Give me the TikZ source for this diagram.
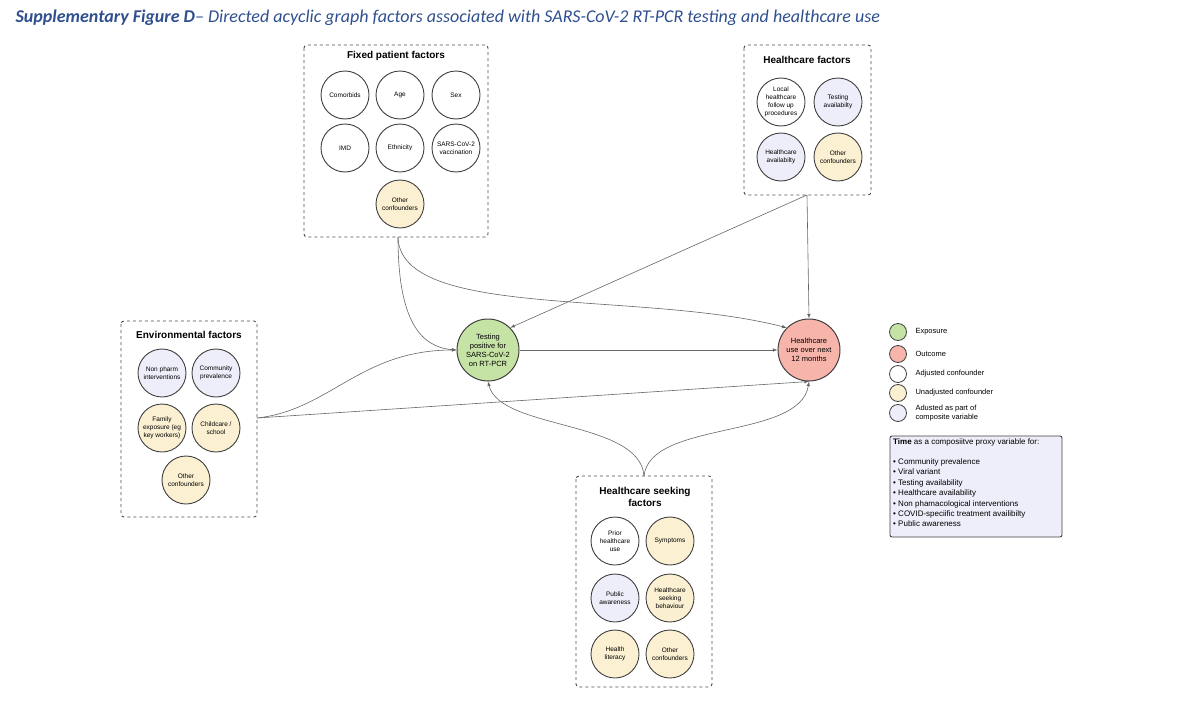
\documentclass[tikz,border=0pt]{standalone}
\usepackage{fontspec}
\setmainfont{Liberation Sans}
\newfontfamily\carl{Carlito}
\begin{document}
\begin{tikzpicture}[x=1pt,y=-1pt,
  box/.style={draw=black!70,dashed,line width=0.9pt,rounded corners=3pt},
  c/.style={circle,draw=black!75,line width=0.9pt,minimum size=48pt,inner sep=0pt,align=center,font=\fontsize{6.5}{7.8}\selectfont},
  adj/.style={c,fill=white},
  una/.style={c,fill=yel},
  cmp/.style={c,fill=lav},
  big/.style={circle,draw=black!75,line width=1pt,minimum size=62pt,inner sep=0pt,align=center,font=\fontsize{7.5}{9}\selectfont},
  ttl/.style={font=\bfseries\fontsize{10}{12}\selectfont,align=center},
  lc/.style={circle,draw=black!75,line width=0.8pt,minimum size=17pt,inner sep=0pt},
  lt/.style={anchor=west,font=\fontsize{7.5}{9}\selectfont,align=left},
  e/.style={draw=black!60,line width=0.6pt,-latex}]
\definecolor{yel}{HTML}{FBF0D2}
\definecolor{lav}{HTML}{EEEEFA}
\definecolor{grn}{HTML}{C6E3A6}
\definecolor{rd}{HTML}{F6B4AB}
\definecolor{tblue}{HTML}{2F4F8F}
\useasboundingbox (0,0) rectangle (1200,712);
\node[anchor=west,font=\carl\itshape\fontsize{18}{21}\selectfont,text=tblue] (title) at (12,18) {\textbf{Supplementary Figure D}– Directed acyclic graph factors associated with SARS-CoV-2 RT-PCR testing and healthcare use};
% Fixed patient
\draw[box] (304,45) rectangle (488,237);
\node[ttl] (ft) at (396,56) {Fixed patient factors};
\node[adj] (f1) at (345,95) {Comorbids};
\node[adj] (f2) at (400,95) {Age};
\node[adj] (f3) at (456,95) {Sex};
\node[adj] (f4) at (345,148) {IMD};
\node[adj] (f5) at (400,148) {Ethnicity};
\node[adj] (f6) at (456,148) {SARS-CoV-2\\vaccination};
\node[una] (f7) at (400,204) {Other\\confounders};
\coordinate (fb) at (398,237);
% Healthcare
\draw[box] (744,45) rectangle (871,195);
\node[ttl] (ht) at (807,60) {Healthcare factors};
\node[adj] (h1) at (781,102) {Local\\healthcare\\follow up\\procedures};
\node[cmp] (h2) at (838,102) {Testing\\availabilty};
\node[cmp] (h3) at (781,157) {Healthcare\\availabilty};
\node[una] (h4) at (838,157) {Other\\confounders};
\coordinate (hb) at (807,195);
% Environmental
\draw[box] (121,321) rectangle (257,517);
\node[ttl] (et) at (189,335) {Environmental factors};
\node[cmp] (e1) at (162,373) {Non pharm\\interventions};
\node[cmp] (e2) at (216,373) {Community\\prevalence};
\node[una] (e3) at (162,428) {Family\\exposure (eg\\key workers)};
\node[una] (e4) at (216,428) {Childcare /\\school};
\node[una] (e5) at (186,480) {Other\\confounders};
\coordinate (eb) at (257,418);
% Seeking
\draw[box] (576,476) rectangle (712,687);
\node[ttl] (st) at (645,497) {Healthcare seeking\\factors};
\node[adj] (s1) at (615,541) {Prior\\healthcare\\use};
\node[una] (s2) at (670,541) {Symptoms};
\node[cmp] (s3) at (615,598) {Public\\awareness};
\node[una] (s4) at (670,598) {Healthcare\\seeking\\behaviour};
\node[una] (s5) at (615,654) {Health\\literacy};
\node[una] (s6) at (670,654) {Other\\confounders};
\coordinate (sb) at (644,476);
% main
\node[big,fill=grn] (x) at (488,350) {Testing\\positive for\\SARS-CoV-2\\on RT-PCR};
\node[big,fill=rd] (y) at (809,350) {Healthcare\\use over next\\12 months};
\draw[e] (x) -- (y);
\draw[e] (fb) .. controls (398,320) and (420,347) .. (x.west);
\draw[e] (fb) .. controls (400,320) and (640,290) .. (y.north west);
\draw[e] (hb) -- (y.north);
\draw[e] (hb) -- (x.north east);
\draw[e] (eb) .. controls (330,410) and (360,350) .. (x.west);
\draw[e] (eb) -- (y.south);
\draw[e] (sb) .. controls (640,420) and (500,430) .. (x.south);
\draw[e] (sb) .. controls (650,420) and (800,440) .. (y.south);
% legend
\node[lc,fill=grn] (l1) at (898,332) {};
\node[lc,fill=rd] (l2) at (898,354) {};
\node[lc,fill=white] (l3) at (898,374) {};
\node[lc,fill=yel] (l4) at (898,393) {};
\node[lc,fill=lav] (l5) at (898,413) {};
\node[lt] (t1) at (912,332) {Exposure};
\node[lt] (t2) at (912,354) {Outcome};
\node[lt] (t3) at (912,374) {Adjusted confounder};
\node[lt] (t4) at (912,393) {Unadjusted confounder};
\node[lt,font=\fontsize{7.5}{8.5}\selectfont] (t5) at (912,413) {Adusted as part of\\composite variable};
\draw[draw=black!75,line width=0.9pt,fill=lav,rounded corners=2pt] (890,436) rectangle (1062,537);
\node[anchor=north west,font=\fontsize{8}{10.4}\selectfont,align=left,inner sep=2pt] (tb) at (891,436) {\textbf{Time} as a composiitve proxy variable for:\\[10pt]
• Community prevalence\\ • Viral variant\\ • Testing availability\\ • Healthcare availability\\ • Non phamacological interventions\\ • COVID-speciific treatment availibilty\\ • Public awareness};
\end{tikzpicture}
\end{document}
